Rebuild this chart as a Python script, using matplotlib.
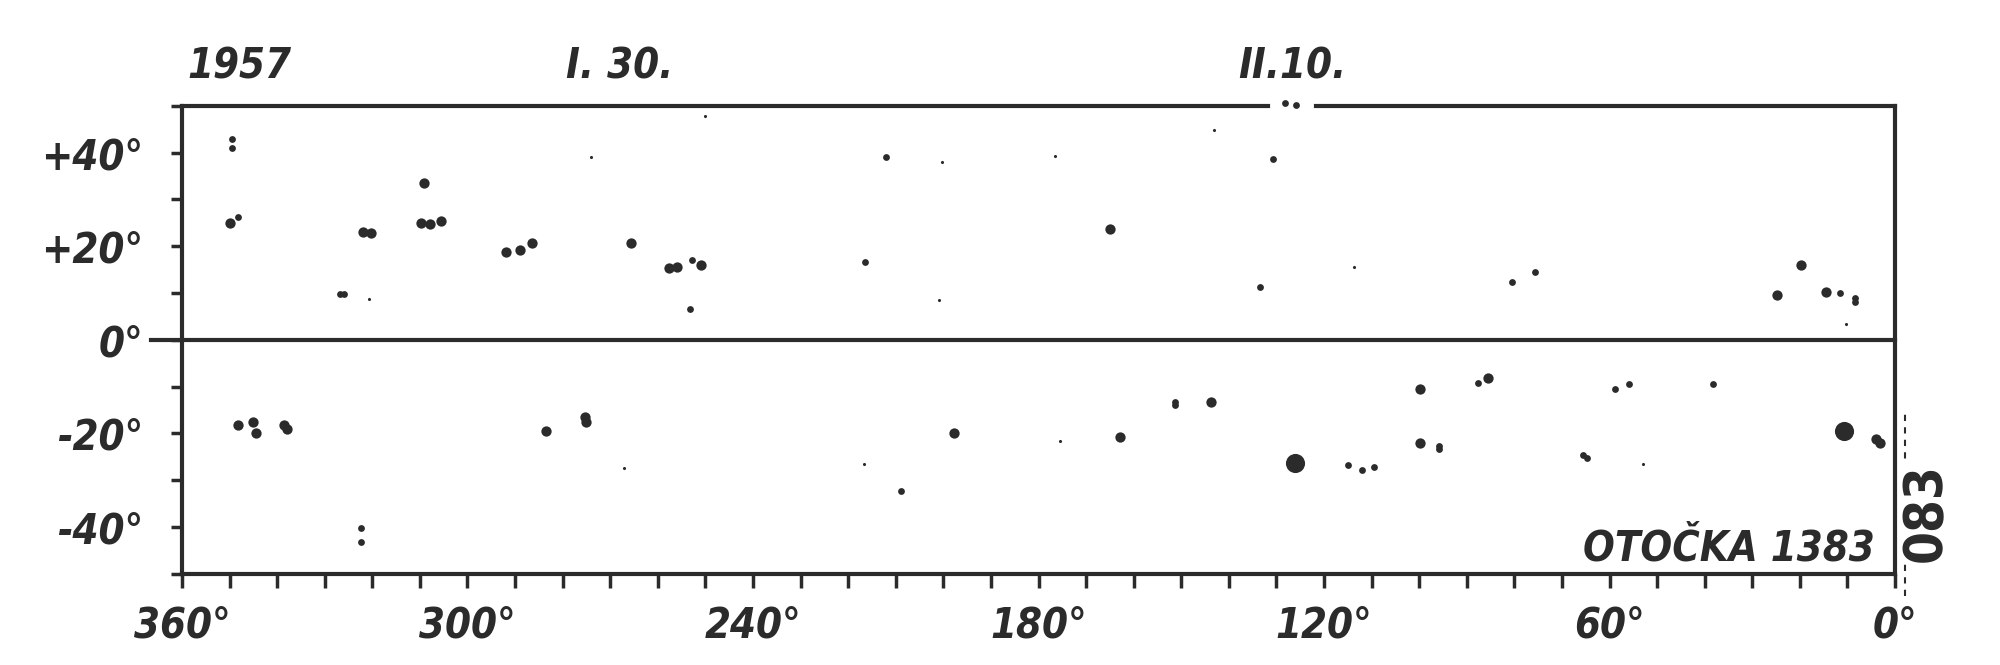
import matplotlib
matplotlib.use("Agg")
import matplotlib.pyplot as plt
from matplotlib.ticker import MultipleLocator, FuncFormatter
import matplotlib.transforms as mtransforms

# sunspot positions: heliographic longitude (deg) and latitude (deg)
large_lon = [126.0, 10.8]
large_lat = [-26.4, -19.4]

spot_lon = [349.9, 322.0, 320.3, 309.1, 309.8, 307.8, 305.6, 292.0, 288.9, 286.4,
            265.6, 257.6, 256.0, 251.0, 165.0, 14.4, 19.8, 24.9,
            348.2, 345.1, 344.5, 338.6, 338.0, 283.6, 275.3, 275.0, 197.8, 162.9,
            143.7, 99.9, 85.6, 99.9, 4.0, 3.2]
spot_lat = [25.0, 23.0, 22.8, 33.6, 25.0, 24.8, 25.4, 18.7, 19.3, 20.6,
            20.7, 15.4, 15.5, 15.9, 23.6, 10.2, 15.9, 9.5,
            -18.1, -17.6, -19.9, -18.2, -19.0, -19.5, -16.5, -17.5, -19.8, -20.7,
            -13.3, -10.6, -8.1, -22.0, -21.2, -22.0]

small_lon = [348.2, 349.4, 349.4, 326.8, 326.0, 253.2, 252.8, 216.5, 133.4, 130.8,
             80.5, 75.6, 11.6, 8.4, 8.4, 322.3, 322.3, 208.8, 151.3, 151.3,
             114.9, 112.0, 109.4, 87.6, 95.8, 95.8, 65.5, 64.8, 58.9, 55.8,
             38.3, 212.1, 128.1, 125.8]
small_lat = [26.3, 42.9, 41.1, 9.8, 9.9, 6.6, 17.1, 16.6, 11.4, 38.6,
             12.3, 14.5, 10.1, 8.9, 8.0, -40.2, -43.2, -32.2, -13.2, -14.0,
             -26.8, -27.9, -27.2, -9.2, -22.6, -23.4, -24.7, -25.2, -10.6, -9.5,
             -9.4, 39.1, 50.7, 50.1]

speck_lon = [320.6, 274.0, 250.0, 200.3, 176.6, 143.2, 201.0, 113.6, 10.2,
             216.6, 175.4, 267.1, 53.0]
speck_lat = [8.7, 39.0, 47.9, 38.0, 39.3, 44.8, 8.6, 15.6, 3.4,
             -26.5, -21.7, -27.4, -26.5]

date_lon = [348.0, 268.0, 126.6]
date_text = ["1957", "I. 30.", "II.10."]

x_ticks = [360, 300, 240, 180, 120, 60, 0]
y_ticks = [40, 20, 0, -20, -40]

INK = "#2b2b2b"

plt.rcParams["font.family"] = ["DejaVu Sans"]
plt.rcParams["font.stretch"] = "condensed"

fig = plt.figure(figsize=(20, 6.65), dpi=100)
ax = fig.add_axes([0.091, 0.137, 0.8565, 0.7038])

ax.set_xlim(360, 0)
ax.set_ylim(-50, 50)

ax.scatter(large_lon, large_lat, s=190, color=INK, linewidths=0, clip_on=False)
ax.scatter(spot_lon, spot_lat, s=55, color=INK, linewidths=0, clip_on=False)
ax.scatter(small_lon, small_lat, s=24, color=INK, linewidths=0, clip_on=False)
ax.scatter(speck_lon, speck_lat, s=5, color=INK, linewidths=0, clip_on=False)

# equator line, running a little past the left border
ax.axhline(0, xmin=-0.018, xmax=1.0, color=INK, lw=3, clip_on=False)

for side in ["left", "right", "bottom"]:
    ax.spines[side].set_linewidth(3)
    ax.spines[side].set_color(INK)
ax.spines["top"].set_visible(False)
# top border is broken near the II.10. mark
gap_start, gap_end = 0.634, 0.662
ax.axhline(50, xmin=0.0, xmax=gap_start, color=INK, lw=3, clip_on=False)
ax.axhline(50, xmin=gap_end, xmax=1.0, color=INK, lw=3, clip_on=False)

ax.xaxis.set_major_locator(plt.FixedLocator(x_ticks))
ax.xaxis.set_minor_locator(MultipleLocator(10))
ax.yaxis.set_major_locator(plt.FixedLocator(y_ticks))
ax.yaxis.set_minor_locator(MultipleLocator(10))


def lat_fmt(v, pos):
    if v > 0:
        return "+%d°" % v
    if v < 0:
        return "-%d°" % abs(v)
    return "0°"


ax.xaxis.set_major_formatter(FuncFormatter(lambda v, p: "%d°" % v))
ax.yaxis.set_major_formatter(FuncFormatter(lat_fmt))

ax.tick_params(axis="x", which="both", direction="out", length=10, width=2.5,
               color=INK, pad=12)
ax.tick_params(axis="y", which="both", direction="out", length=8, width=2.5,
               color=INK, pad=20)
for lab in ax.get_xticklabels() + ax.get_yticklabels():
    lab.set_fontsize(30)
    lab.set_fontstyle("italic")
    lab.set_fontweight("bold")
    lab.set_fontstretch("condensed")
    lab.set_color(INK)

top = mtransforms.blended_transform_factory(ax.transData, ax.transAxes)
for lon, txt in zip(date_lon, date_text):
    ax.text(lon, 1.085, txt, transform=top, ha="center", va="center",
            fontsize=30, fontstyle="italic", fontweight="bold",
            fontstretch="condensed", color=INK)

ax.text(0.988, 0.055, "OTOČKA 1383", transform=ax.transAxes, ha="right",
        va="center", fontsize=30, fontstyle="italic", fontweight="bold",
        fontstretch="condensed", color=INK)

ax.plot([1.006, 1.006], [-0.047, 0.345], transform=ax.transAxes, color=INK,
        lw=1.5, ls=(0, (3, 3)), clip_on=False)
ax.text(1.018, 0.13, "083", transform=ax.transAxes, rotation=90, ha="center",
        va="center", fontsize=38, fontweight="bold", fontstretch="condensed",
        color=INK, bbox=dict(facecolor="white", edgecolor="none", pad=0))

fig.savefig("out.png", dpi=100, facecolor="white")
